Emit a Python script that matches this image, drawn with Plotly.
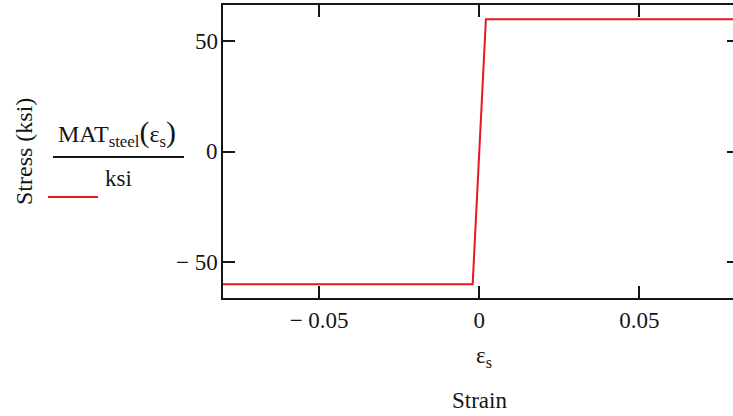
import plotly.graph_objects as go

# Data
strain = [-0.08, -0.00207, 0.00207, 0.08]
stress = [-60, -60, 60, 60]
x_tickvals = [-0.05, 0, 0.05]
x_ticktext = ["\u2212 0.05", "0", "0.05"]
y_tickvals = [-50, 0, 50]
y_ticktext = ["\u2212 50", "0", "50"]

W, H = 733, 416
L, T, R, B = 223, 5, 0, 118
PW, PH = W - L - R, H - T - B

def px(x):
    return (x - L) / PW

def py(y):
    return (H - B - y) / PH

FONT = "Liberation Serif"
INK = "#151515"
RED = "rgb(232,22,32)"
FS = 23
YR = [-66.2, 66.4]

fig = go.Figure()
fig.add_trace(go.Scatter(x=strain, y=stress, mode="lines",
                         line=dict(color=RED, width=2), showlegend=False))
# invisible trace for right y ticks
fig.add_trace(go.Scatter(x=strain, y=stress, yaxis="y2", mode="lines",
                         line=dict(color="rgba(0,0,0,0)", width=0),
                         showlegend=False, hoverinfo="skip"))

fig.update_layout(
    width=W, height=H,
    margin=dict(l=L, t=T, r=R, b=B),
    plot_bgcolor="white", paper_bgcolor="white",
    font=dict(family=FONT, size=FS, color=INK),
    xaxis=dict(range=[-0.08, 0.0792], showgrid=False, zeroline=False,
               showline=True, linecolor=INK, linewidth=2, mirror="ticks",
               ticks="inside", ticklen=12, tickwidth=2, tickcolor=INK,
               tickvals=x_tickvals, ticktext=x_ticktext,
               tickfont=dict(family=FONT, size=FS, color=INK),
               ticklabelstandoff=0),
    yaxis=dict(range=YR, showgrid=False, zeroline=False,
               showline=True, linecolor=INK, linewidth=2, mirror=False,
               ticks="inside", ticklen=12, tickwidth=2, tickcolor=INK,
               tickvals=y_tickvals, showticklabels=False),
    yaxis2=dict(range=YR, overlaying="y", side="right",
                showgrid=False, zeroline=False, showline=False,
                ticks="inside", ticklen=6, tickwidth=2, tickcolor=INK,
                tickvals=y_tickvals, showticklabels=False),
)

# y tick labels placed on the y scale, just left of the axis line
for v, t in zip(y_tickvals, y_ticktext):
    fig.add_annotation(text=t, x=px(220), y=v, xref="paper", yref="y",
                       showarrow=False, xanchor="right", yanchor="middle",
                       font=dict(family=FONT, size=FS, color=INK))

ann = [
    dict(text="Stress (ksi)", x=px(24), y=py(152), textangle=-90, size=24),
    dict(text="MAT<sub>steel</sub><span style='font-size:30px'>(</span>\u03b5<sub>s</sub><span style='font-size:30px'>)</span>",
         x=px(117), y=py(133), textangle=0, size=24),
    dict(text="ksi", x=px(118), y=py(178), textangle=0, size=FS),
    dict(text="\u03b5<sub>s</sub>", x=px(484), y=py(357), textangle=0, size=FS),
    dict(text="Strain", x=px(479), y=py(400), textangle=0, size=FS),
]
for a in ann:
    fig.add_annotation(text=a["text"], x=a["x"], y=a["y"], xref="paper", yref="paper",
                       showarrow=False, textangle=a["textangle"],
                       xanchor="center", yanchor="middle",
                       font=dict(family=FONT, size=a["size"], color=INK))

fig.add_shape(type="line", xref="paper", yref="paper",
              x0=px(53), x1=px(184), y0=py(157), y1=py(157),
              line=dict(color=INK, width=2))
fig.add_shape(type="line", xref="paper", yref="paper",
              x0=px(48), x1=px(98), y0=py(197), y1=py(197),
              line=dict(color=RED, width=2))

fig.write_html("out.html")
